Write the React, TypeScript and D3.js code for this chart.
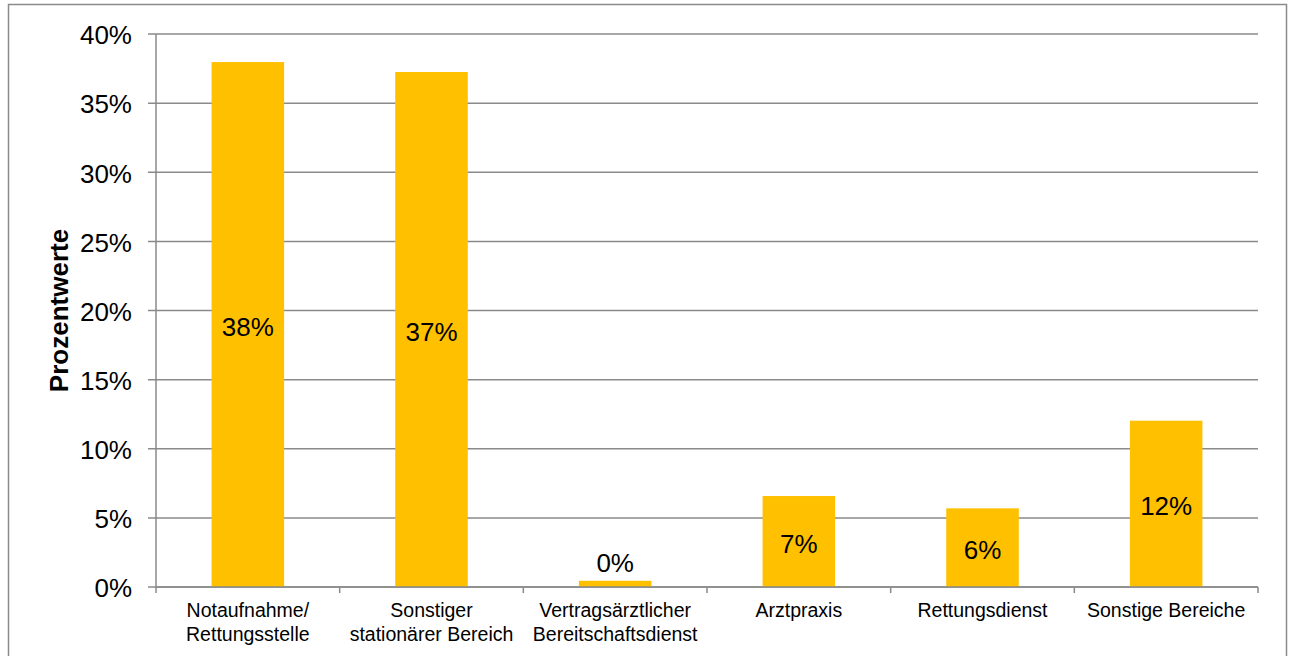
import React from "react";
import * as d3 from "d3";

const categories = [
  ["Notaufnahme/", "Rettungsstelle"],
  ["Sonstiger", "stationärer Bereich"],
  ["Vertragsärztlicher", "Bereitschaftsdienst"],
  ["Arztpraxis"],
  ["Rettungsdienst"],
  ["Sonstige Bereiche"],
];
const values = [0.3797, 0.3725, 0.0045, 0.0658, 0.0569, 0.1203];
const yTicks = [0, 0.05, 0.1, 0.15, 0.2, 0.25, 0.3, 0.35, 0.4];
const yTitle = "Prozentwerte";

const W = 1291;
const H = 656;
const left = 156;
const right = 1258;
const top = 34;
const bottom = 587;
const gray = "#8a8a8a";
const font = "'Liberation Sans', Arial, sans-serif";

export default function App() {
  const x = d3.scaleBand<number>().domain(d3.range(categories.length)).range([left, right]).padding(0);
  const y = d3.scaleLinear().domain([0, 0.4]).range([bottom, top]);
  const bw = x.bandwidth() * 0.395;
  const fmt = d3.format(".0%");
  const boundaries = d3.range(categories.length + 1).map((i) => left + i * x.bandwidth());

  return (
    <svg width={W} height={H} style={{ position: "absolute", left: 0, top: 0, background: "#fff" }} fontFamily={font}>
      <rect x={8.5} y={4.5} width={1278} height={700} fill="#fff" stroke={gray} strokeWidth={1.5} />
      {yTicks.map((t) => (
        <g key={t}>
          <line x1={148} x2={right} y1={y(t)} y2={y(t)} stroke={gray} strokeWidth={1.5} />
          <text x={132} y={y(t) + 1} dy="0.36em" textAnchor="end" fontSize={26} fill="#000">
            {fmt(t)}
          </text>
        </g>
      ))}
      {values.map((v, i) => {
        const cx = (x(i) as number) + x.bandwidth() / 2;
        const yt = y(v);
        const h = bottom - yt;
        const inside = h > 40;
        return (
          <g key={i}>
            <rect x={cx - bw / 2} y={yt} width={bw} height={h} fill="#FFC000" />
            <text
              x={cx}
              y={inside ? yt + h / 2 + 2 : yt - 18}
              dy="0.36em"
              textAnchor="middle"
              fontSize={26}
              fill="#000"
            >
              {fmt(v)}
            </text>
          </g>
        );
      })}
      <line x1={left} x2={left} y1={top} y2={bottom} stroke={gray} strokeWidth={1.5} />
      <line x1={left} x2={right} y1={bottom} y2={bottom} stroke={gray} strokeWidth={1.5} />
      {boundaries.map((bx, i) => (
        <line key={i} x1={bx} x2={bx} y1={bottom} y2={bottom + 6} stroke={gray} strokeWidth={1.5} />
      ))}
      {categories.map((lines, i) => {
        const cx = (x(i) as number) + x.bandwidth() / 2;
        return (
          <text key={i} x={cx} y={617} textAnchor="middle" fontSize={19.5} fill="#000">
            {lines.map((l, j) => (
              <tspan key={j} x={cx} y={617 + j * 23.5}>
                {l}
              </tspan>
            ))}
          </text>
        );
      })}
      <text
        transform={`translate(68, ${(top + bottom) / 2}) rotate(-90)`}
        textAnchor="middle"
        fontSize={26}
        fontWeight="bold"
        fill="#000"
      >
        {yTitle}
      </text>
    </svg>
  );
}
